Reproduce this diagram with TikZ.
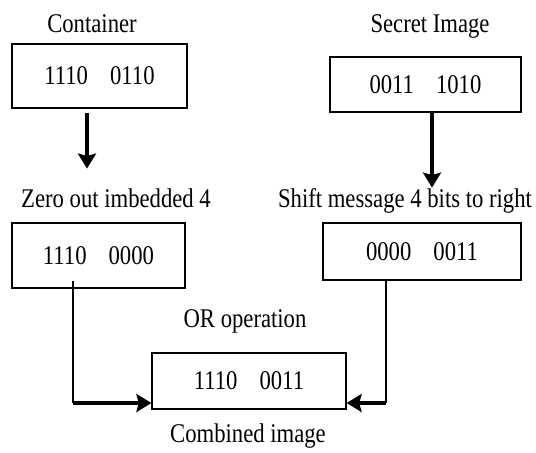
\documentclass[tikz,border=0pt]{standalone}
\usepackage{fontspec}
\setmainfont[FakeStretch=0.84]{Liberation Serif}
\usetikzlibrary{arrows.meta,positioning,calc}
\tikzset{
  bits/.style={font=\fontsize{13.5}{16}\selectfont, text=black,
    >={Stealth[length=7.5pt,width=9pt,inset=1.2pt]}},
  caption/.style={inner sep=0pt,anchor=base},
  word/.style={draw=black,line width=.6pt,inner sep=0pt,align=center},
  drop/.style={->,line width=2pt},
  feed/.style={line width=.6pt},
  push/.style={->,line width=2.4pt},
}
\newcommand{\gap}{\hspace{11pt}}

\begin{document}
\begin{tikzpicture}[bits,x=.5pt,y=.5pt]
  % 536 x 452 px canvas, one unit = one pixel
  \path[use as bounding box] (0,0) rectangle (536,-452);

  % ---------------- top row: the two inputs ----------------
  \node[caption] (contlbl) at (92,-32) {Container};
  \node[word,minimum width=87.5pt,minimum height=32pt] (cont) at (99.5,-76)
    {1110\gap0110};
  \node[caption] (secretlbl) at (430,-32) {Secret Image};
  \node[word,minimum width=95.5pt,minimum height=27.5pt] (secret) at (425.5,-84.5)
    {0011\gap1010};

  % ---------------- middle row: after masking / shifting ----------------
  \node[caption] (zerolbl) at (116,-207) {Zero out imbedded 4};
  \node[caption] (shiftlbl) at (405,-207) {Shift message 4 bits to right};
  \node[word,minimum width=86.5pt,minimum height=32.5pt] (zero) at (98.5,-255.5)
    {1110\gap0000};
  \node[word,minimum width=99pt,minimum height=28.5pt] (shifted) at (422,-251.5)
    {0000\gap0011};

  % vertical arrows; the right one runs into the label
  \draw[drop] ([shift={(-12.5,-4)}]cont.south) -- ++(0,-56);
  \draw[drop] ([shift={(6.5,0)}]secret.south) -- ++(0,-75);

  % ---------------- bottom: the OR ----------------
  \node[caption] (orlbl) at (245,-327) {OR operation};
  \node[word,minimum width=97pt,minimum height=28pt] (comb) at (249,-381)
    {1110\gap0011};
  \node[caption] (comblbl) at (248,-442) {Combined image};

  % left feed starts inside the box, right feed at its edge
  \coordinate (ltop) at ([shift={(-25.5,8)}]zero.south);
  \coordinate (lend) at ([yshift=-11]comb.west);
  \coordinate (lbend) at (ltop |- lend);
  \draw[feed] (ltop) -- (lbend);
  \draw[push] (lbend) -- (lend);

  \coordinate (rtop) at ([xshift=-18]shifted.south);
  \coordinate (rend) at ([yshift=-11]comb.east);
  \coordinate (rbend) at (rtop |- rend);
  \draw[feed] (rtop) -- (rbend);
  \draw[push] (rbend) -- (rend);
\end{tikzpicture}
\end{document}
